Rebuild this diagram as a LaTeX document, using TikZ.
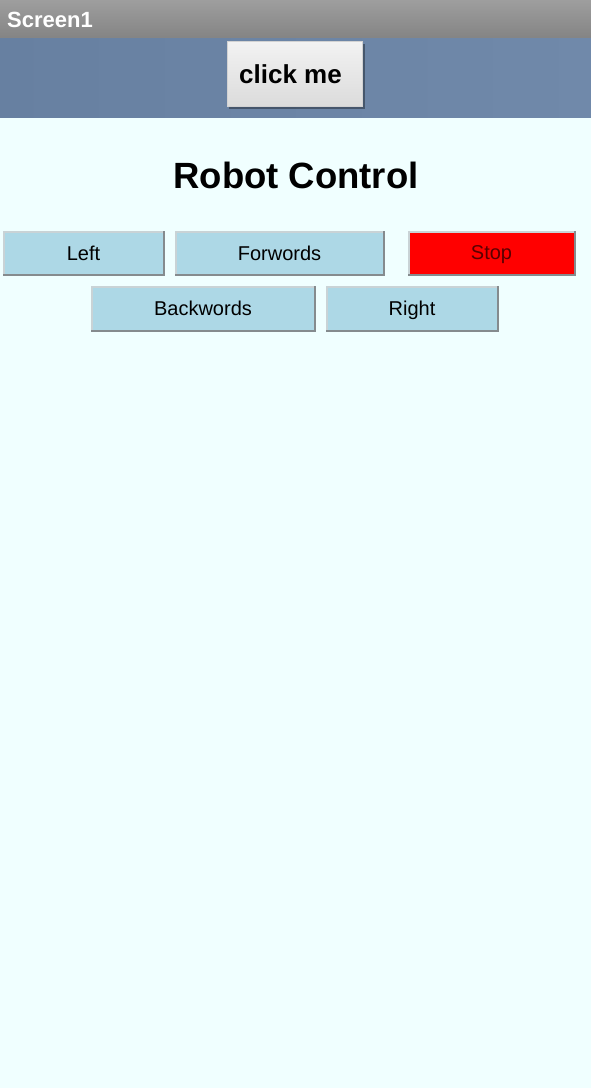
\documentclass[tikz,border=0pt]{standalone}
\usepackage{fontspec}
\setmainfont{Liberation Sans}
\usetikzlibrary{positioning}

\definecolor{screenbg}{HTML}{F0FFFF}
\definecolor{titletop}{HTML}{9E9E9E}
\definecolor{titlebot}{HTML}{848484}
\definecolor{barleft}{HTML}{6780A1}
\definecolor{barright}{HTML}{7089AA}
\definecolor{btnblue}{HTML}{ADD8E6}
\definecolor{btnlight}{HTML}{C9D3D6}
\definecolor{btndark}{HTML}{858B8E}
\definecolor{stoptext}{HTML}{5A0000}

\tikzset{
    button/.style={rectangle, fill=btnblue, draw=btnlight, line width=1.5pt,
        inner sep=0pt, text depth=0pt, font=\fontsize{20}{24}\selectfont},
    edgeline/.style={btndark, line width=2pt},
}

\begin{document}
\begin{tikzpicture}[x=1pt,y=-1pt]
    \useasboundingbox (0,0) rectangle (591,1088);
    \fill[screenbg] (0,0) rectangle (591,1088);

    % Title bar
    \shade[top color=titletop, bottom color=titlebot] (0,0) rectangle (591,38);
    \node[anchor=base west, text=white, font=\bfseries\fontsize{22}{26}\selectfont, inner sep=0pt]
        (title) at (7,27) {Screen1};

    % Blue bar with the click me button
    \shade[left color=barleft, right color=barright] (0,38) rectangle (591,117);
    \fill[black, opacity=0.35] (229,44) rectangle (365,109);
    \node[rectangle, top color=gray!10, bottom color=gray!28, draw=gray!35, line width=1pt,
        minimum width=135pt, minimum height=65pt, inner sep=0pt,
        font=\bfseries\fontsize{26}{30}\selectfont]
        (click) at (295,74) {click me\kern9pt\relax};

    % Heading
    \node[anchor=base, font=\bfseries\fontsize{36.5}{44}\selectfont, inner sep=0pt]
        (heading) at (296,188) {Robot Control};

    % First row
    \node[button, minimum width=159.5pt, minimum height=42.5pt] (left) at (83.5,253) {Left};
    \node[button, minimum width=207.5pt, minimum height=42.5pt] (forwords) at (279.5,253) {Forwords};
    \node[button, fill=red, minimum width=165.5pt, minimum height=42.5pt, text=stoptext] (stop) at (491.5,253) {Stop};

    % Second row
    \node[button, minimum width=222.5pt, minimum height=43.5pt] (backwords) at (203,308.5) {Backwords};
    \node[button, minimum width=170.5pt, minimum height=43.5pt] (right) at (412,308.5) {Right};

    % Dark edges
    \foreach \b in {left, forwords, stop, backwords, right}
        \draw[edgeline] (\b.south west) -- (\b.south east) -- (\b.north east);
\end{tikzpicture}
\end{document}
